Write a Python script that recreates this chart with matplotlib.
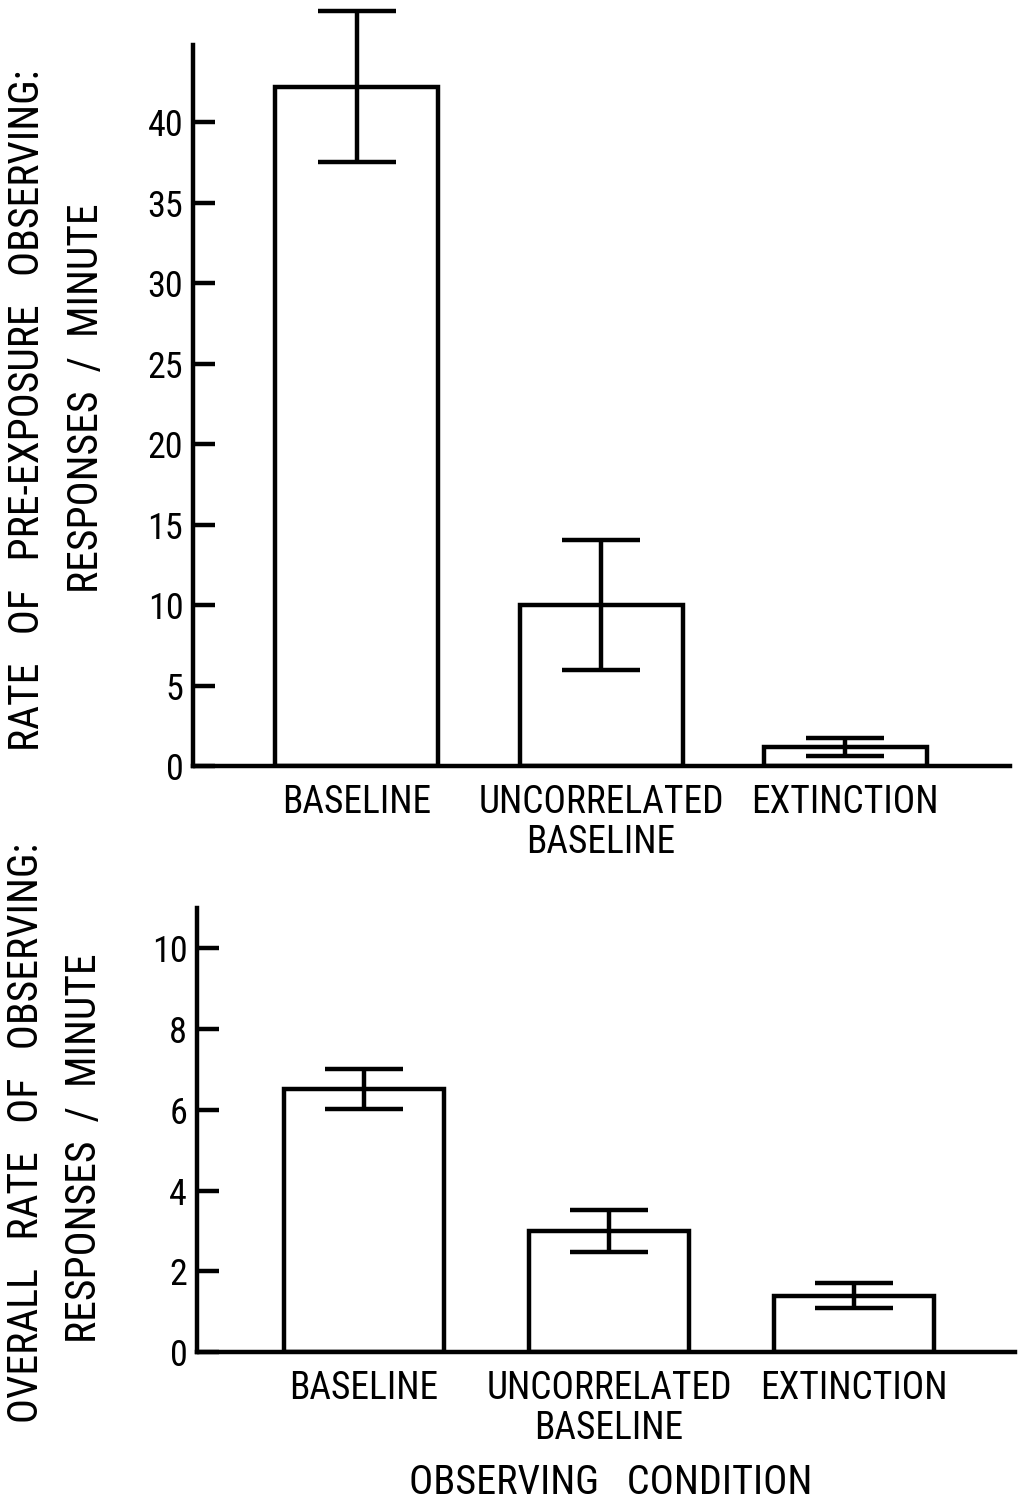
import numpy as np
import matplotlib
matplotlib.use('Agg')
import matplotlib.pyplot as plt

plt.rcParams['font.family'] = ['Roboto Condensed', 'DejaVu Sans']

conditions = ['BASELINE', 'UNCORRELATED\nBASELINE', 'EXTINCTION']

# pre-exposure observing rate (responses / minute)
pre_rate = [42.2, 10.0, 1.2]
pre_err = [4.7, 4.05, 0.55]

# overall observing rate (responses / minute)
overall_rate = [6.52, 3.0, 1.39]
overall_err = [0.5, 0.52, 0.31]

pre_ticks = [0, 5, 10, 15, 20, 25, 30, 35, 40]
overall_ticks = [0, 2, 4, 6, 8, 10]

W, H = 1019, 1504
fig = plt.figure(figsize=(W / 100, H / 100), dpi=100)

LW = 3.2


def draw_panel(ax, values, errs, ticks, ylim, xlim, width, tick_fs, cat_fs):
    x = np.arange(len(values))
    ax.bar(x, values, width=width, color='white', edgecolor='black',
           linewidth=LW, zorder=2)
    ax.errorbar(x, values, yerr=errs, fmt='none', ecolor='black',
                elinewidth=LW, capsize=28, capthick=LW, zorder=3,
                clip_on=False)
    ax.set_xlim(*xlim)
    ax.set_ylim(*ylim)
    ax.set_yticks(ticks)
    ax.set_yticklabels([str(t) for t in ticks], fontsize=tick_fs)
    ax.tick_params(axis='y', direction='in', length=16, width=LW, pad=7)
    ax.set_xticks(x)
    ax.set_xticklabels(conditions, fontsize=cat_fs, linespacing=1.1)
    ax.tick_params(axis='x', length=0, pad=13)
    for side in ('top', 'right'):
        ax.spines[side].set_visible(False)
    for side in ('left', 'bottom'):
        ax.spines[side].set_linewidth(LW)
    ax.patch.set_alpha(0)


ax1 = fig.add_axes([193 / W, 1 - 766 / H, (1010 - 193) / W, (766 - 45) / H])
draw_panel(ax1, pre_rate, pre_err, pre_ticks, (0, 44.8), (-0.672, 2.676),
           0.668, 26, 27)

ax2 = fig.add_axes([197 / W, 1 - 1352 / H, (1015 - 197) / W, (1352 - 908) / H])
draw_panel(ax2, overall_rate, overall_err, overall_ticks, (0, 11.0),
           (-0.682, 2.657), 0.65, 26, 27)

fig.text(28 / W, 1 - 410 / H, 'RATE   OF   PRE-EXPOSURE   OBSERVING:',
         rotation=90, ha='center', va='center', fontsize=30)
fig.text(87 / W, 1 - 398 / H, 'RESPONSES  /  MINUTE',
         rotation=90, ha='center', va='center', fontsize=30)
fig.text(27 / W, 1 - 1133 / H, 'OVERALL   RATE   OF   OBSERVING:',
         rotation=90, ha='center', va='center', fontsize=30)
fig.text(85 / W, 1 - 1148 / H, 'RESPONSES  /  MINUTE',
         rotation=90, ha='center', va='center', fontsize=30)

fig.text(611 / W, 1 - 1483 / H, 'OBSERVING   CONDITION',
         ha='center', va='center', fontsize=29)

fig.savefig('out.png', dpi=100, facecolor='white')
